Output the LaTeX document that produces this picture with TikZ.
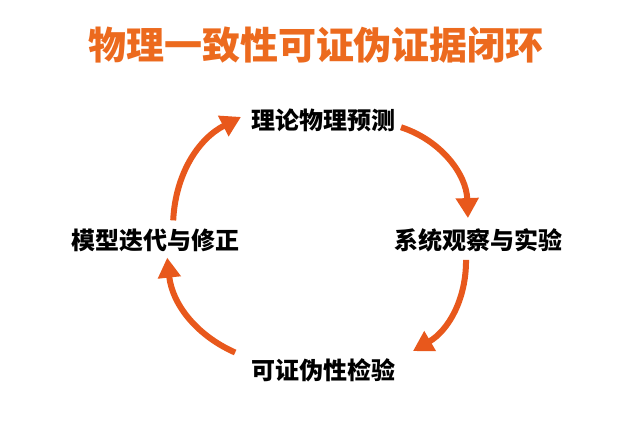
\documentclass[tikz,border=0pt]{standalone}
\usepackage{fontspec}
\newfontfamily\cjk{Noto Sans CJK SC}
\usetikzlibrary{arrows.meta,positioning}
\definecolor{cycleorange}{HTML}{E8581C}
\definecolor{titleorange}{HTML}{EC6A1E}
\tikzset{
  stage/.style={font=\cjk\bfseries\fontsize{24}{28}\selectfont, inner sep=2pt},
  flow/.style={cycleorange, line width=6pt, -{Triangle[length=20pt,width=22pt]},
    shorten <=4pt, shorten >=2pt}
}
\begin{document}
\begin{tikzpicture}[x=1pt,y=1pt]
	\useasboundingbox[fill=white] (0,0) rectangle (632,-424);
	\node[font=\cjk\bfseries\fontsize{38}{42}\selectfont, text=titleorange] (title) at (316,-45) {物理一致性可证伪证据闭环};
	\node[stage] (theory) at (323,-120) {理论物理预测};
	\node[stage] (observe) at (478,-240) {系统观察与实验};
	\node[stage] (falsify) at (323,-370) {可证伪性检验};
	\node[stage] (revise) at (155,-240) {模型迭代与修正};
	% clockwise loop
	\draw[flow] ([yshift=-6pt]theory.east) to[bend left=35] ([xshift=-10pt,yshift=6pt]observe.north);
	\draw[flow] ([xshift=-12pt,yshift=-2pt]observe.south) to[bend left=30] ([xshift=14pt,yshift=4pt]falsify.north east);
	\draw[flow] ([xshift=-10pt,yshift=2pt]falsify.north west) to[bend left=30] ([xshift=12pt,yshift=-2pt]revise.south);
	\draw[flow] ([xshift=18pt,yshift=2pt]revise.north) to[bend left=30] ([xshift=-6pt,yshift=4pt]theory.west);
\end{tikzpicture}
\end{document}
